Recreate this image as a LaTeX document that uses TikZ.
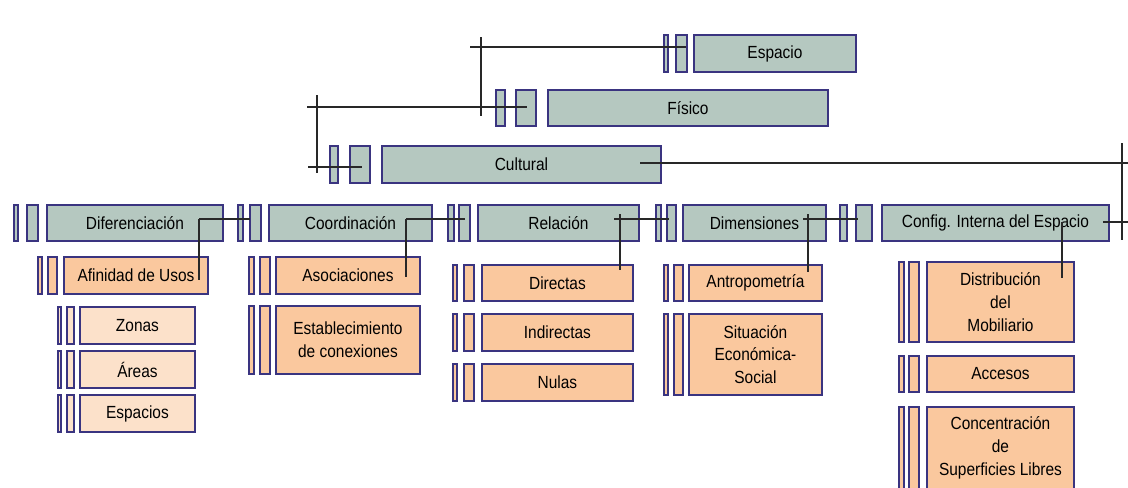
\documentclass[tikz,border=0pt]{standalone}
\usepackage{fontspec}
\setmainfont{Liberation Sans}[FakeStretch=0.88]
\usetikzlibrary{positioning,calc}
\definecolor{boxBorder}{RGB}{58,52,128}
\definecolor{sageFill}{RGB}{181,200,192}
\definecolor{itemFill}{RGB}{250,200,158}
\definecolor{subItemFill}{RGB}{252,225,202}
\definecolor{lineGray}{RGB}{40,40,40}

\begin{document}
\begin{tikzpicture}[x=0.02cm, y=-0.02cm]
	\fill [white] (0,0) rectangle (1128,487);
	\useasboundingbox (0,0) rectangle (1128,487);
	%defines
	\tikzstyle{box} = [rectangle, draw=boxBorder, line width=1.1pt, inner sep=0pt, text centered, align=center, anchor=north west, font=\fontsize{10}{13}\selectfont]
	\tikzstyle{level} = [box, fill=sageFill]
	\tikzstyle{item} = [box, fill=itemFill]
	\tikzstyle{subItem} = [box, fill=subItemFill]
	\tikzstyle{bar} = [rectangle, draw=boxBorder, line width=1.1pt, inner sep=0pt]
	\tikzstyle{levelBar} = [bar, fill=sageFill]
	\tikzstyle{itemBar} = [bar, fill=itemFill]
	\tikzstyle{subItemBar} = [bar, fill=subItemFill]
	\tikzstyle{link} = [line width=0.85pt, draw=lineGray]
	%top chain
	\node (espacio) [level, minimum width=3.24cm, minimum height=0.74cm] at (693,34) {Espacio};
	\node (espacioBarB) [levelBar, minimum width=0.22cm, minimum height=0.74cm, left=0.1cm of espacio] {};
	\node (espacioBarA) [levelBar, minimum width=0.08cm, minimum height=0.74cm, left=0.12cm of espacioBarB] {};
	\node (fisico) [level, minimum width=5.6cm, minimum height=0.72cm] at (547,89) {Físico};
	\node (fisicoBarB) [levelBar, minimum width=0.4cm, minimum height=0.72cm, left=0.2cm of fisico] {};
	\node (fisicoBarA) [levelBar, minimum width=0.18cm, minimum height=0.72cm, left=0.18cm of fisicoBarB] {};
	\node (cultural) [level, minimum width=5.58cm, minimum height=0.74cm] at (381,145) {Cultural};
	\node (culturalBarB) [levelBar, minimum width=0.4cm, minimum height=0.74cm, left=0.2cm of cultural] {};
	\node (culturalBarA) [levelBar, minimum width=0.16cm, minimum height=0.74cm, left=0.2cm of culturalBarB] {};
	%second row
	\node (diferenciacion) [level, minimum width=3.52cm, minimum height=0.72cm] at (46,204) {Diferenciación};
	\node (diferenciacionBarB) [levelBar, minimum width=0.22cm, minimum height=0.72cm, left=0.14cm of diferenciacion] {};
	\node (diferenciacionBarA) [levelBar, minimum width=0.08cm, minimum height=0.72cm, left=0.14cm of diferenciacionBarB] {};
	\node (coordinacion) [level, minimum width=3.26cm, minimum height=0.72cm] at (268,204) {Coordinación};
	\node (coordinacionBarB) [levelBar, minimum width=0.22cm, minimum height=0.72cm, left=0.12cm of coordinacion] {};
	\node (coordinacionBarA) [levelBar, minimum width=0.1cm, minimum height=0.72cm, left=0.1cm of coordinacionBarB] {};
	\node (relacion) [level, minimum width=3.22cm, minimum height=0.72cm] at (477,204) {Relación};
	\node (relacionBarB) [levelBar, minimum width=0.22cm, minimum height=0.72cm, left=0.12cm of relacion] {};
	\node (relacionBarA) [levelBar, minimum width=0.12cm, minimum height=0.72cm, left=0.06cm of relacionBarB] {};
	\node (dimensiones) [level, minimum width=2.86cm, minimum height=0.72cm] at (682,204) {Dimensiones};
	\node (dimensionesBarB) [levelBar, minimum width=0.18cm, minimum height=0.72cm, left=0.1cm of dimensiones] {};
	\node (dimensionesBarA) [levelBar, minimum width=0.1cm, minimum height=0.72cm, left=0.08cm of dimensionesBarB] {};
	\node (configInterna) [level, minimum width=4.54cm, minimum height=0.72cm] at (881,204) {Config. Interna del Espacio};
	\node (configInternaBarB) [levelBar, minimum width=0.32cm, minimum height=0.72cm, left=0.16cm of configInterna] {};
	\node (configInternaBarA) [levelBar, minimum width=0.14cm, minimum height=0.72cm, left=0.14cm of configInternaBarB] {};
	%Diferenciacion items
	\node (afinidadUsos) [item, minimum width=2.88cm, minimum height=0.74cm] at (63,256) {Afinidad de Usos};
	\node (afinidadUsosBarB) [itemBar, minimum width=0.18cm, minimum height=0.74cm, left=0.1cm of afinidadUsos] {};
	\node (afinidadUsosBarA) [itemBar, minimum width=0.08cm, minimum height=0.74cm, left=0.08cm of afinidadUsosBarB] {};
	\node (zonas) [subItem, minimum width=2.3cm, minimum height=0.74cm] at (79,306) {Zonas};
	\node (zonasBarB) [subItemBar, minimum width=0.14cm, minimum height=0.74cm, left=0.08cm of zonas] {};
	\node (zonasBarA) [subItemBar, minimum width=0.07cm, minimum height=0.74cm, left=0.08cm of zonasBarB] {};
	\node (areas) [subItem, minimum width=2.3cm, minimum height=0.74cm] at (79,350) {Áreas};
	\node (areasBarB) [subItemBar, minimum width=0.14cm, minimum height=0.74cm, left=0.08cm of areas] {};
	\node (areasBarA) [subItemBar, minimum width=0.07cm, minimum height=0.74cm, left=0.08cm of areasBarB] {};
	\node (espacios) [subItem, minimum width=2.3cm, minimum height=0.74cm] at (79,394) {Espacios};
	\node (espaciosBarB) [subItemBar, minimum width=0.14cm, minimum height=0.74cm, left=0.08cm of espacios] {};
	\node (espaciosBarA) [subItemBar, minimum width=0.07cm, minimum height=0.74cm, left=0.08cm of espaciosBarB] {};
	%Coordinacion items
	\node (asociaciones) [item, minimum width=2.88cm, minimum height=0.74cm] at (275,256) {Asociaciones};
	\node (asociacionesBarB) [itemBar, minimum width=0.2cm, minimum height=0.74cm, left=0.08cm of asociaciones] {};
	\node (asociacionesBarA) [itemBar, minimum width=0.1cm, minimum height=0.74cm, left=0.08cm of asociacionesBarB] {};
	\node (establecimiento) [item, minimum width=2.88cm, minimum height=1.36cm] at (275,305) {Establecimiento\\de conexiones};
	\node (establecimientoBarB) [itemBar, minimum width=0.2cm, minimum height=1.36cm, left=0.08cm of establecimiento] {};
	\node (establecimientoBarA) [itemBar, minimum width=0.1cm, minimum height=1.36cm, left=0.08cm of establecimientoBarB] {};
	%Relacion items
	\node (directas) [item, minimum width=3.02cm, minimum height=0.72cm] at (481,264) {Directas};
	\node (directasBarB) [itemBar, minimum width=0.2cm, minimum height=0.72cm, left=0.12cm of directas] {};
	\node (directasBarA) [itemBar, minimum width=0.08cm, minimum height=0.72cm, left=0.1cm of directasBarB] {};
	\node (indirectas) [item, minimum width=3.02cm, minimum height=0.74cm] at (481,313) {Indirectas};
	\node (indirectasBarB) [itemBar, minimum width=0.2cm, minimum height=0.74cm, left=0.12cm of indirectas] {};
	\node (indirectasBarA) [itemBar, minimum width=0.08cm, minimum height=0.74cm, left=0.1cm of indirectasBarB] {};
	\node (nulas) [item, minimum width=3.02cm, minimum height=0.74cm] at (481,363) {Nulas};
	\node (nulasBarB) [itemBar, minimum width=0.2cm, minimum height=0.74cm, left=0.12cm of nulas] {};
	\node (nulasBarA) [itemBar, minimum width=0.08cm, minimum height=0.74cm, left=0.1cm of nulasBarB] {};
	%Dimensiones items
	\node (antropometria) [item, minimum width=2.66cm, minimum height=0.72cm] at (688,264) {Antropometría};
	\node (antropometriaBarB) [itemBar, minimum width=0.18cm, minimum height=0.72cm, left=0.08cm of antropometria] {};
	\node (antropometriaBarA) [itemBar, minimum width=0.08cm, minimum height=0.72cm, left=0.08cm of antropometriaBarB] {};
	\node (situacion) [item, minimum width=2.66cm, minimum height=1.62cm] at (688,313) {Situación\\Económica-\\Social};
	\node (situacionBarB) [itemBar, minimum width=0.18cm, minimum height=1.62cm, left=0.08cm of situacion] {};
	\node (situacionBarA) [itemBar, minimum width=0.08cm, minimum height=1.62cm, left=0.08cm of situacionBarB] {};
	%Config items
	\node (distribucion) [item, minimum width=2.94cm, minimum height=1.6cm] at (926,261) {Distribución\\del\\Mobiliario};
	\node (distribucionBarB) [itemBar, minimum width=0.2cm, minimum height=1.6cm, left=0.12cm of distribucion] {};
	\node (distribucionBarA) [itemBar, minimum width=0.1cm, minimum height=1.6cm, left=0.06cm of distribucionBarB] {};
	\node (accesos) [item, minimum width=2.94cm, minimum height=0.72cm] at (926,355) {Accesos};
	\node (accesosBarB) [itemBar, minimum width=0.2cm, minimum height=0.72cm, left=0.12cm of accesos] {};
	\node (accesosBarA) [itemBar, minimum width=0.1cm, minimum height=0.72cm, left=0.06cm of accesosBarB] {};
	\node (concentracion) [item, minimum width=2.94cm, minimum height=1.64cm] at (926,406) {Concentración\\de\\Superficies Libres};
	\node (concentracionBarB) [itemBar, minimum width=0.2cm, minimum height=1.64cm, left=0.12cm of concentracion] {};
	\node (concentracionBarA) [itemBar, minimum width=0.1cm, minimum height=1.64cm, left=0.06cm of concentracionBarB] {};
	%line ends
	\coordinate (espacioTail) at (470,47);
	\coordinate (espacioHead) at (686,47);
	\coordinate (espacioTop) at (481,37);
	\coordinate (fisicoBottom) at (481,116);
	\coordinate (fisicoTail) at (307,107);
	\coordinate (fisicoHead) at (527,107);
	\coordinate (fisicoTop) at (317,95);
	\coordinate (culturalBottom) at (317,173);
	\coordinate (culturalTail) at (308,167);
	\coordinate (culturalHead) at (362,167);
	\coordinate (culturalOut) at (640,163);
	\coordinate (culturalEnd) at (1128,163);
	\coordinate (culturalTop) at (1122,143);
	\coordinate (configBottom) at (1122,240);
	\coordinate (configOut) at (1103,222);
	\coordinate (configEnd) at (1128,222);
	\coordinate (distribucionIn) at (1062,278);
	\coordinate (diferenciacionOut) at (199,219);
	\coordinate (afinidadIn) at (199,280);
	\coordinate (coordinacionIn) at (250,219);
	\coordinate (coordinacionOut) at (406,219);
	\coordinate (asociacionesIn) at (406,277);
	\coordinate (relacionIn) at (465,219);
	\coordinate (relacionOut) at (614,219);
	\coordinate (relacionTop) at (620,214);
	\coordinate (directasIn) at (620,270);
	\coordinate (dimensionesIn) at (669,219);
	\coordinate (dimensionesOut) at (803,219);
	\coordinate (dimensionesTop) at (808,214);
	\coordinate (antropometriaIn) at (808,272);
	\coordinate (configIn) at (858,219);
	%chart
	\draw [link] (espacioTail) -- (espacioHead);
	\draw [link] (espacioTop) -- (fisicoBottom);
	\draw [link] (fisicoTail) -- (fisicoHead);
	\draw [link] (fisicoTop) -- (culturalBottom);
	\draw [link] (culturalTail) -- (culturalHead);
	\draw [link] (culturalOut) -- (culturalEnd);
	\draw [link] (culturalTop) -- (configBottom);
	\draw [link] (configOut) -- (configEnd);
	\draw [link] (configOut -| distribucionIn) -- (distribucionIn);
	\draw [link] (diferenciacionOut) -- (coordinacionIn);
	\draw [link] (diferenciacionOut) -- (afinidadIn);
	\draw [link] (coordinacionOut) -- (relacionIn);
	\draw [link] (coordinacionOut) -- (asociacionesIn);
	\draw [link] (relacionOut) -- (dimensionesIn);
	\draw [link] (relacionTop) -- (directasIn);
	\draw [link] (dimensionesOut) -- (configIn);
	\draw [link] (dimensionesTop) -- (antropometriaIn);
\end{tikzpicture}
\end{document}
